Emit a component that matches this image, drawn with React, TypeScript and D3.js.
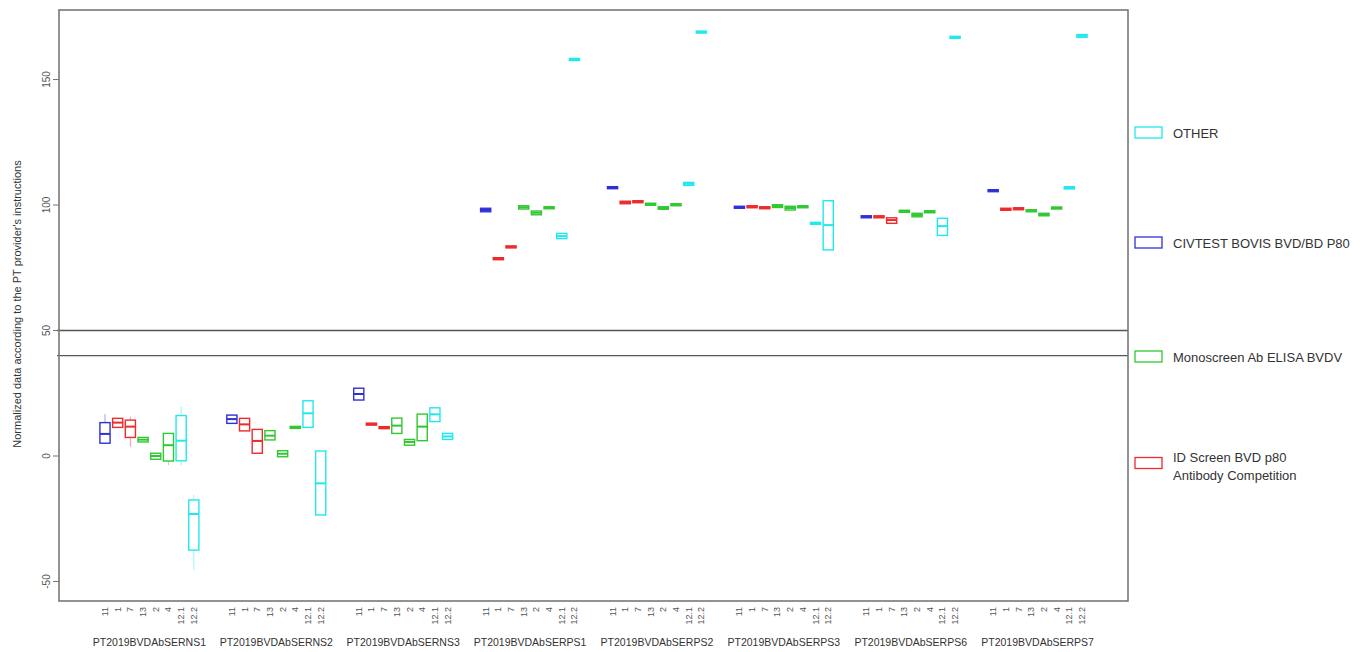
import React from "react";
import * as d3 from "d3";

const groups = [
  "PT2019BVDAbSERNS1",
  "PT2019BVDAbSERNS2",
  "PT2019BVDAbSERNS3",
  "PT2019BVDAbSERPS1",
  "PT2019BVDAbSERPS2",
  "PT2019BVDAbSERPS3",
  "PT2019BVDAbSERPS6",
  "PT2019BVDAbSERPS7",
];
const labs = ["11", "1", "7", "13", "2", "4", "12.1", "12.2"];
const labMethod = [1, 3, 3, 2, 2, 2, 0, 0];
const methods = ["OTHER", "CIVTEST BOVIS BVD/BD P80", "Monoscreen Ab ELISA BVDV", "ID Screen BVD p80|Antibody Competition"];
const methodColors = ["#22e8ee", "#3030d8", "#30c830", "#ee2a2a"];

const medians = [
  [8.8, 13.3, 11.7, 6.5, 0, 4.3, 6.1, -23.1],
  [14.7, 12.6, 6.0, 8.1, 0.9, 11.4, 17.0, -10.9],
  [24.7, 12.7, 11.3, 12.1, 5.6, 11.7, 16.6, 7.8],
  [98.0, 78.6, 83.3, 99.1, 96.9, 98.9, 87.6, 158.0],
  [106.9, 101.1, 101.3, 100.3, 98.8, 100.1, 108.4, 168.9],
  [99.1, 99.3, 98.9, 99.6, 98.8, 99.3, 92.7, 92.0],
  [95.3, 95.3, 94.0, 97.5, 96.0, 97.3, 91.6, 166.8],
  [105.7, 98.3, 98.5, 97.7, 96.2, 98.8, 106.8, 167.4],
];
const q1s = [
  [5.1, 11.4, 7.4, 5.6, -1.3, -2.0, -1.9, -37.5],
  [13.0, 10.0, 1.1, 6.4, -0.3, 11.0, 11.4, -23.5],
  [22.3, 12.3, 10.9, 9.0, 4.3, 6.1, 13.7, 6.6],
  [97.3, 78.2, 82.9, 98.4, 96.1, 98.5, 86.6, 157.6],
  [106.5, 100.5, 100.9, 99.9, 98.3, 99.7, 107.8, 168.5],
  [98.7, 98.9, 98.5, 99.0, 98.0, 98.9, 92.3, 82.1],
  [94.9, 94.9, 92.7, 97.1, 95.3, 96.9, 87.9, 166.4],
  [105.3, 97.9, 98.1, 97.3, 95.7, 98.4, 106.4, 166.8],
];
const q3s = [
  [13.3, 15.0, 14.3, 7.4, 1.1, 9.0, 16.1, -17.5],
  [16.3, 15.0, 10.6, 10.1, 2.1, 11.8, 22.0, 2.0],
  [27.0, 13.1, 11.7, 15.1, 6.6, 16.7, 19.2, 9.0],
  [98.7, 79.0, 83.7, 99.7, 97.6, 99.3, 88.7, 158.4],
  [107.3, 101.5, 101.7, 100.7, 99.3, 100.5, 109.0, 169.3],
  [99.5, 99.7, 99.3, 100.1, 99.5, 99.7, 93.1, 101.7],
  [95.7, 95.7, 94.9, 97.9, 96.7, 97.7, 94.7, 167.2],
  [106.1, 98.7, 98.9, 98.1, 96.7, 99.2, 107.3, 167.9],
];
const whiskLo = [
  [5.1, 11.4, 3.7, 5.6, -1.3, -3.6, -3.6, -45.4],
];
const whiskHi = [
  [16.7, 15.0, 15.7, 7.4, 1.1, 9.0, 19.9, -15.5],
];
const yTicks = [-50, 0, 50, 100, 150];
const refLines = [50, 40];

const L = 59, R = 1128, T = 10, B = 601;

export default function App() {
  const slot = 10;
  const x = d3.scaleLinear().domain([-3.625, 77 + 3.625]).range([L, R]);
  const y = d3.scaleLinear().domain([0, 150]).range([456, 79.5]);
  const bw = (x(1) - x(0)) * 0.8;
  const font = "'Liberation Sans', Arial, sans-serif";

  const boxes: any[] = [];
  groups.forEach((g, gi) => {
    labs.forEach((lab, j) => {
      const p = gi * slot + j;
      const cx = x(p);
      const col = methodColors[labMethod[j]];
      const ytop = y(q3s[gi][j]);
      const ybot = y(q1s[gi][j]);
      const lo = whiskLo[gi] ? whiskLo[gi][j] : q1s[gi][j];
      const hi = whiskHi[gi] ? whiskHi[gi][j] : q3s[gi][j];
      boxes.push(
        <g key={`${gi}-${j}`}>
          {hi > q3s[gi][j] && (
            <line x1={cx} x2={cx} y1={y(hi)} y2={ytop} stroke={col} strokeOpacity={0.45} strokeWidth={1} />
          )}
          {lo < q1s[gi][j] && (
            <line x1={cx} x2={cx} y1={ybot} y2={y(lo)} stroke={col} strokeOpacity={0.45} strokeWidth={1} />
          )}
          <rect x={cx - bw / 2} y={ytop} width={bw} height={Math.max(ybot - ytop, 0.5)} fill="none" stroke={col} strokeWidth={1.4} />
          <line x1={cx - bw / 2} x2={cx + bw / 2} y1={y(medians[gi][j])} y2={y(medians[gi][j])} stroke={col} strokeWidth={2} />
          <text transform={`translate(${cx + 3},${B + 6}) rotate(-90)`} textAnchor="end" fontSize={9} fill="#555" fontFamily={font}>
            {lab}
          </text>
        </g>
      );
    });
  });

  return (
    <svg width={1369} height={652} style={{ position: "absolute", left: 0, top: 0, background: "#fff" }}>
      <rect x={0} y={0} width={1369} height={652} fill="#fff" />
      {refLines.map((v) => (
        <line key={v} x1={57} x2={R} y1={y(v)} y2={y(v)} stroke="#555" strokeWidth={1.3} />
      ))}
      {boxes}
      <rect x={L} y={T} width={R - L} height={B - T} fill="none" stroke="#777" strokeWidth={1.6} />
      {yTicks.map((v) => (
        <g key={v}>
          <line x1={L - 6} x2={L} y1={y(v)} y2={y(v)} stroke="#777" strokeWidth={1} />
          <text transform={`translate(${L - 9},${y(v)}) rotate(-90)`} textAnchor="middle" fontSize={10} fill="#555" fontFamily={font}>
            {v}
          </text>
        </g>
      ))}
      <text transform={`translate(21,${(140 + 468) / 2}) rotate(-90)`} textAnchor="middle" fontSize={11} fill="#333" fontFamily={font}>
        Normalized data according to the PT provider's instructions
      </text>
      {groups.map((g, gi) => (
        <text key={g} x={x(gi * slot + 3.5)} y={646} textAnchor="middle" fontSize={10.5} fill="#333" fontFamily={font}>
          {g}
        </text>
      ))}
      {methods.map((m, i) => {
        const ys = [127, 237, 351, 457.5][i];
        const lines = m.split("|");
        return (
          <g key={m}>
            <rect x={1135} y={ys} width={27} height={11} fill="none" stroke={methodColors[i]} strokeWidth={1.3} />
            {lines.map((ln, k) => (
              <text key={k} x={1173} y={(lines.length > 1 ? ys + 4.5 : ys + 10.5) + k * 18} fontSize={13} fill="#333" fontFamily={font}>
                {ln}
              </text>
            ))}
          </g>
        );
      })}
    </svg>
  );
}
